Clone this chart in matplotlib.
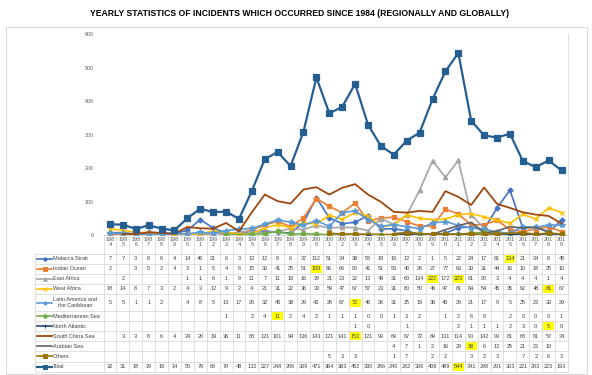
import numpy as np
import matplotlib
matplotlib.use("Agg")
import matplotlib.pyplot as plt
from matplotlib.transforms import Affine2D, blended_transform_factory
from matplotlib.patches import Rectangle
from matplotlib.lines import Line2D

plt.rcParams['font.family'] = ['Liberation Sans', 'DejaVu Sans']

nan = np.nan
years = list(range(1984, 2020))

malacca = [7, 7, 3, 8, 6, 4, 14, 46, 21, 6, 3, 12, 12, 8, 6,
           37, 112, 51, 34, 38, 58, 18, 19, 12, 2, 1, 5, 22, 24, 17, 81, 134, 21, 24, 8, 45]
indian = [2, nan, 3, 5, 2, 4, 3, 1, 5, 4, 6, 15, 30, 41, 25,
          51, 109, 86, 66, 96, 41, 51, 53, 40, 26, 27, 77, 63, 30, 31, 44, 16, 10, 18, 25, 10]
east_africa = [nan, 2, nan, nan, nan, nan, 1, 1, 6, 1, 9, 11, 7, 11, 19,
               16, 29, 21, 23, 22, 13, 49, 31, 60, 134, 222, 172, 223, 61, 20, 3, 4, 4, 4, 1, 4]
west_africa = [18, 14, 8, 7, 3, 2, 4, 3, 12, 9, 2, 4, 21, 31, 22,
               36, 33, 59, 47, 67, 57, 23, 31, 60, 50, 46, 47, 61, 64, 54, 45, 35, 62, 48, 81, 67]
latin = [5, 5, 1, 1, 2, nan, 4, 8, 5, 13, 17, 20, 32, 45, 38,
         29, 43, 26, 67, 72, 46, 26, 31, 25, 19, 36, 40, 29, 21, 17, 9, 5, 25, 23, 30, 29]
med = [nan] * 9 + [1, nan, 2, 4, 11, 2,
                   4, 2, 1, 1, 1, 0, 0, 1, 3, 2, nan, 1, 2, 6, 8, nan, 2, 0, 0, 0, 1]
north_atl = [nan] * 19 + [1, 0, nan, nan, 1, nan, nan, nan, 2, 1, 1, 1, 2, 3, 0, 5, 0]
scs = [nan, 3, 3, 8, 6, 4, 24, 20, 19, 36, 11, 68, 121, 101, 94,
       136, 143, 121, 141, 152, 121, 99, 69, 67, 72, 69, 131, 114, 90, 142, 93, 81, 68, 61, 57, 34]
arabian = [nan] * 22 + [4, 7, 1, 2, 16, 28, 38, 6, 12, 25, 21, 23, 10, nan]
others = [nan] * 17 + [5, 3, 3, nan, nan, 1, 7, nan, 2, 2, nan, 3, 2, 3, nan, 7, 2, 6, 3]
total = [32, 31, 18, 29, 19, 14, 50, 79, 68, 70, 48, 132, 227, 248, 206,
         309, 471, 364, 383, 452, 330, 266, 240, 282, 306, 406, 489, 544, 341, 298, 291, 303, 221, 203, 223, 193]

# label, values, colour, marker, marker size, line width
series = [
    ("Malacca Strait", malacca, "#4472C4", "D", 2.6, 1.2),
    ("Indian Ocean", indian, "#ED7D31", "s", 3.0, 1.2),
    ("East Africa", east_africa, "#A5A5A5", "^", 3.2, 1.2),
    ("West Africa", west_africa, "#FFC000", "x", 3.2, 1.2),
    ("Latin America and\nthe Caribbean", latin, "#5B9BD5", "*", 3.8, 1.2),
    ("Mediterranean Sea", med, "#70AD47", "o", 3.2, 1.2),
    ("North Atlantic", north_atl, "#264478", "+", 3.6, 1.2),
    ("South China Sea", scs, "#9E480E", "", 0, 1.3),
    ("Arabian Sea", arabian, "#636363", "", 0, 1.2),
    ("Others", others, "#997300", "s", 2.8, 1.2),
    ("Total", total, "#255E91", "s", 3.8, 1.6),
]

highlight = [("Malacca Strait", 2015), ("Indian Ocean", 2000), ("East Africa", 2009),
             ("East Africa", 2011), ("West Africa", 2018), ("Latin America and\nthe Caribbean", 2003),
             ("Mediterranean Sea", 1997), ("North Atlantic", 2018), ("South China Sea", 2003),
             ("Arabian Sea", 2012), ("Total", 2011)]

W, H = 592, 375
fig = plt.figure(figsize=(W / 100, H / 100), dpi=100)
ax = fig.add_axes([103.5 / W, 1 - 235 / H, (568 - 103.5) / W, (235 - 34.3) / H])
pix = Affine2D().scale(1 / W, -1 / H).translate(0, 1) + fig.transFigure
colpix = blended_transform_factory(ax.transData, pix)
grid_c = "#D9D9D9"
txt_c = "#404040"

x = np.arange(len(years))
for i, (name, vals, color, marker, ms, lw) in enumerate(series):
    v = np.array(vals, float)
    ok = ~np.isnan(v)
    ax.plot(x[ok], v[ok], color=color, lw=lw, marker=marker or None, ms=ms,
            mew=0.9, zorder=3 + i * 0.1)

ax.set_xlim(-0.5, len(years) - 0.5)
ax.set_ylim(0, 600)
ax.set_yticks(range(0, 601, 100))
ax.tick_params(axis='y', length=0, pad=7, labelsize=3.8, labelcolor="#595959")
ax.set_xticks(x)
ax.set_xticklabels([f"{str(y)[:3]}\n{str(y)[3:]}" for y in years], linespacing=1.1)
ax.tick_params(axis='x', length=0, pad=1.5, labelsize=4, labelcolor="#595959")
for s in ["top", "left", "right"]:
    ax.spines[s].set_visible(False)
ax.spines["bottom"].set_color(grid_c)
ax.spines["bottom"].set_linewidth(0.7)

# column grid lines, running through the data table
for b in np.arange(-0.5, len(years)):
    fig.add_artist(Line2D([b, b], [34.3, 372], transform=colpix, color=grid_c, lw=0.6, zorder=0))

# data table
bounds = [254, 264, 274, 284, 294, 311, 321, 331, 341, 351, 361.5, 372]
for yb in bounds:
    fig.add_artist(Line2D([35, 568], [yb, yb], transform=pix, color=grid_c, lw=0.6))
fig.add_artist(Line2D([35, 35], [254, 372], transform=pix, color=grid_c, lw=0.6))

for r, (name, vals, color, marker, ms, lw) in enumerate(series):
    yc = (bounds[r] + bounds[r + 1]) / 2
    fig.add_artist(Line2D([37, 52], [yc, yc], transform=pix, color=color, lw=lw))
    if marker:
        fig.add_artist(Line2D([44.5], [yc], transform=pix, color=color, marker=marker,
                              ms=ms * 0.8, mew=0.7))
    fig.text(53, yc, name, transform=pix, ha="left", va="center", fontsize=4,
             color=txt_c, multialignment="center", linespacing=1.2)
    for i, v in enumerate(vals):
        if np.isnan(v):
            continue
        if (name, years[i]) in highlight:
            fig.add_artist(Rectangle((i - 0.42, yc - 4), 0.84, 8, transform=colpix,
                                     color="#FFFF00", lw=0, zorder=1))
        fig.text(i, yc, str(int(v)), transform=colpix, ha="center", va="center",
                 fontsize=4, color=txt_c, zorder=2)

# chart border and title
fig.add_artist(Rectangle((6, 27), 581, 347, transform=pix, fill=False,
                         edgecolor=grid_c, lw=0.7))
fig.text(299, 13, "YEARLY STATISTICS OF INCIDENTS WHICH OCCURRED SINCE 1984 (REGIONALLY AND GLOBALLY)",
         transform=pix, ha="center", va="center", fontsize=6.2, fontweight="bold", color="#000000")

fig.savefig("out.png", dpi=100)
